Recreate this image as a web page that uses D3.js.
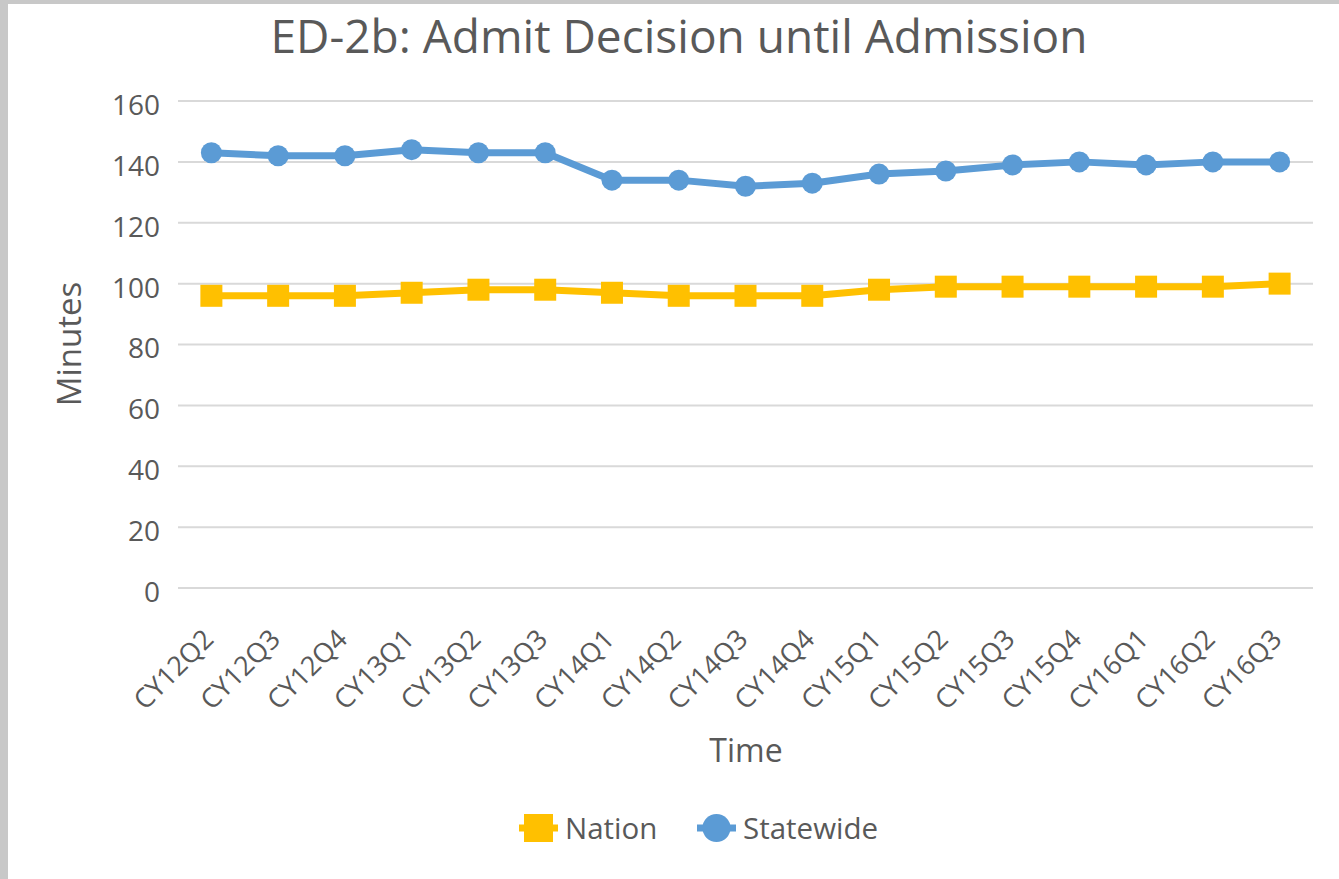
<!DOCTYPE html>
<html>
<head>
<meta charset="utf-8">
<script src="https://cdn.jsdelivr.net/npm/d3@7"></script>
<style>
body { margin: 0; background: #c8c8c8; }
svg { display: block; font-family: "Open Sans", "Noto Sans", sans-serif; }
</style>
</head>
<body>
<svg></svg>
<script>
// data
var quarters = ["CY12Q2","CY12Q3","CY12Q4","CY13Q1","CY13Q2","CY13Q3","CY14Q1","CY14Q2","CY14Q3","CY14Q4","CY15Q1","CY15Q2","CY15Q3","CY15Q4","CY16Q1","CY16Q2","CY16Q3"]
var nation = [96,96,96,97,98,98,97,96,96,96,98,99,99,99,99,99,100]
var statewide = [143,142,142,144,143,143,134,134,132,133,136,137,139,140,139,140,140]
var yTicks = [0,20,40,60,80,100,120,140,160]

var W = 1339, H = 879
var FONT = "'Open Sans', 'Noto Sans', sans-serif"
var svg = d3.select("svg").attr("width", W).attr("height", H)

// chart area (white, grey frame left/top)
svg.append("rect")
  .attr("x", 8).attr("y", 4)
  .attr("width", W - 8).attr("height", H - 4)
  .attr("fill", "white")

var plotLeft = 178, plotRight = 1313, plotTop = 101, plotBottom = 588

var x = d3.scaleBand().domain(quarters).range([plotLeft, plotRight])
var y = d3.scaleLinear().domain([0, 160]).range([plotBottom, plotTop])
var cx = function(d, i){ return x(quarters[i]) + x.bandwidth()/2 }

// gridlines
svg.append("g")
  .selectAll("line").data(yTicks).enter().append("line")
  .attr("x1", plotLeft).attr("x2", plotRight)
  .attr("y1", d => y(d)).attr("y2", d => y(d))
  .attr("stroke", "#d9d9d9").attr("stroke-width", 2)

// y axis labels
var yAxis = d3.axisLeft(y).tickValues(yTicks).tickSize(0).tickPadding(0)
var gy = svg.append("g").attr("transform", "translate(160,0)").call(yAxis)
  .attr("font-family", FONT).attr("font-size", 28)
gy.select(".domain").remove()
gy.selectAll("text").attr("fill", "#595959").attr("dy", "0.48em")

// x axis labels
var xAxis = d3.axisBottom(x).tickSize(0).tickPadding(0)
var gx = svg.append("g").attr("transform", "translate(0," + plotBottom + ")").call(xAxis)
  .attr("font-family", FONT).attr("font-size", 27)
gx.select(".domain").remove()
gx.selectAll("text")
  .attr("fill", "#595959")
  .attr("text-anchor", "end")
  .attr("y", 0).attr("dy", "0.36em")
  .attr("transform", "translate(-3,46) rotate(-45)")

// lines
var line = d3.line().x(cx).y(d => y(d))

svg.append("path").datum(nation)
  .attr("d", line).attr("fill", "none")
  .attr("stroke", "#ffc000").attr("stroke-width", 7).attr("stroke-linejoin", "round")
svg.append("g").selectAll("rect").data(nation).enter().append("rect")
  .attr("x", (d, i) => cx(d, i) - 11).attr("y", d => y(d) - 11)
  .attr("width", 22).attr("height", 22)
  .attr("fill", "#ffc000")

svg.append("path").datum(statewide)
  .attr("d", line).attr("fill", "none")
  .attr("stroke", "#5b9bd5").attr("stroke-width", 7).attr("stroke-linejoin", "round")
svg.append("g").selectAll("circle").data(statewide).enter().append("circle")
  .attr("cx", cx).attr("cy", d => y(d)).attr("r", 10.5)
  .attr("fill", "#5b9bd5")

// title
svg.append("text")
  .attr("x", 679).attr("y", 53)
  .attr("text-anchor", "middle")
  .attr("fill", "#595959").style("font-size", "46px")
  .text("ED-2b: Admit Decision until Admission")

// axis titles
svg.append("text")
  .attr("transform", "translate(81,344) rotate(-90)")
  .attr("text-anchor", "middle")
  .attr("fill", "#595959").style("font-size", "33px")
  .text("Minutes")

svg.append("text")
  .attr("x", 746).attr("y", 762)
  .attr("text-anchor", "middle")
  .attr("fill", "#595959").style("font-size", "32px")
  .text("Time")

// legend
var legend = [
  {name: "Nation", color: "#ffc000", shape: "square", x: 519},
  {name: "Statewide", color: "#5b9bd5", shape: "circle", x: 697}
]
var lg = svg.append("g")
legend.forEach(function(l){
  lg.append("line")
    .attr("x1", l.x).attr("x2", l.x + 39)
    .attr("y1", 828).attr("y2", 828)
    .attr("stroke", l.color).attr("stroke-width", 7)
  if (l.shape == "square") {
    lg.append("rect").attr("x", l.x + 5).attr("y", 814)
      .attr("width", 29).attr("height", 28).attr("fill", l.color)
  } else {
    lg.append("circle").attr("cx", l.x + 19.5).attr("cy", 828)
      .attr("r", 14).attr("fill", l.color)
  }
  lg.append("text")
    .attr("x", l.x + 46).attr("y", 839)
    .attr("fill", "#595959").style("font-size", "29.5px")
    .text(l.name)
})
</script>
</body>
</html>
